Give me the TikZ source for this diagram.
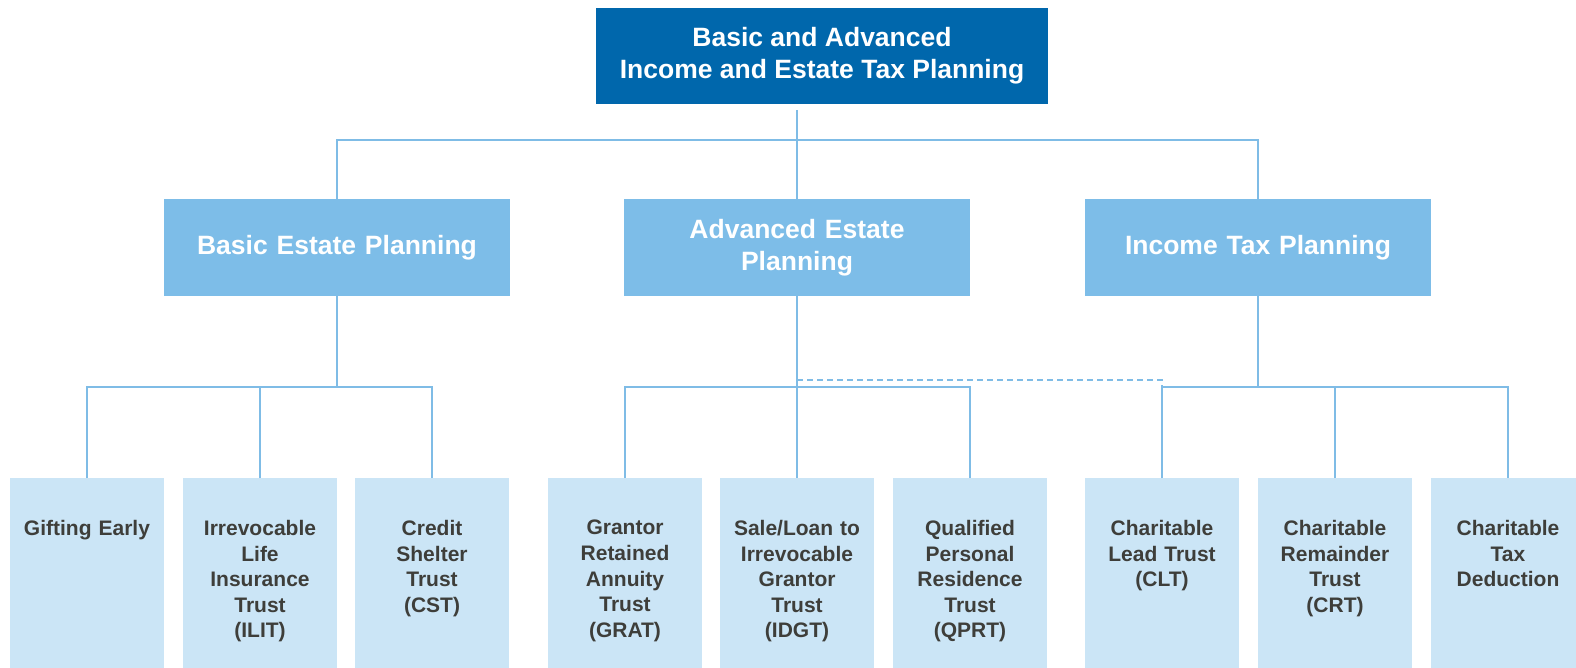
\documentclass[tikz,border=0pt]{standalone}
\usepackage{fontspec}
\setmainfont{Liberation Sans}

\definecolor{topblue}{HTML}{0067AC}
\definecolor{midblue}{HTML}{7DBDE8}
\definecolor{leafblue}{HTML}{CBE5F6}
\definecolor{linkblue}{HTML}{7FBCE6}
\definecolor{leafgray}{HTML}{3E3E3A}

\tikzset{
  topbox/.style={fill=topblue, text=white, minimum width=452pt, minimum height=96pt, align=center, font=\bfseries\fontsize{26.5}{32}\selectfont},
  midbox/.style={fill=midblue, text=white, minimum width=346pt, minimum height=97pt, text width=330pt, align=center, font=\bfseries\fontsize{26.5}{32}\selectfont},
  leafbox/.style={fill=leafblue, minimum width=154pt, minimum height=192pt, anchor=north, inner sep=0pt},
  leaftext/.style={anchor=north, text=leafgray, text width=150pt, align=center, inner sep=0pt, font=\bfseries\fontsize{21}{25.6}\selectfont},
  link/.style={draw=linkblue, line width=1.5pt},
  dashlink/.style={link, dash pattern=on 6pt off 4pt},
}

\begin{document}
\begin{tikzpicture}[x=1pt, y=-1pt]
\useasboundingbox (0,0) rectangle (1576,668);

% Top box
\node[topbox] (top) at (822,56) {Basic and Advanced\\Income and Estate Tax Planning};

% Second level
\node[midbox] (basic) at (337,247.5) {Basic Estate Planning};
\node[midbox] (adv) at (797,247.5) {Advanced Estate\\Planning};
\node[midbox] (income) at (1258,247.5) {Income Tax Planning};

% Leaves
\foreach \cx/\name/\label in {
  87/gift/{Gifting Early},
  260/ilit/{Irrevocable\\Life\\Insurance\\Trust\\(ILIT)},
  432/cst/{Credit\\Shelter\\Trust\\(CST)},
  625/grat/{Grantor\\Retained\\Annuity\\Trust\\(GRAT)},
  797/idgt/{Sale/Loan to\\Irrevocable\\Grantor\\Trust\\(IDGT)},
  970/qprt/{Qualified\\Personal\\Residence\\Trust\\(QPRT)},
  1162/clt/{Charitable\\Lead Trust\\(CLT)},
  1335/crt/{Charitable\\Remainder\\Trust\\(CRT)},
  1508/ded/{Charitable\\Tax\\Deduction}}
{
  \node[leafbox] (\name) at (\cx,478) {};
  \node[leaftext] (\name-txt) at ([yshift=-42pt]\name.north) {\label};
}

% Bus lines
\coordinate (bus1) at (797,140);
\coordinate (bus2a) at (337,387);
\coordinate (bus2b) at (797,387);
\coordinate (bus2c) at (1258,387);
\coordinate (dashy) at (797,380);

% Top to second level
\draw[link] ([yshift=-6pt]adv.north |- top.south) -- (adv.north);
\draw[link] (basic.north) |- (bus1) -| (income.north);

% Basic estate planning
\draw[link] (basic.south) -- (bus2a);
\draw[link] (gift.north) |- (bus2a) -| (cst.north);
\draw[link] (ilit.north) -- (ilit.north |- bus2a);

% Advanced estate planning
\draw[link] (adv.south) -- (idgt.north);
\draw[link] (grat.north) |- (bus2b) -| (qprt.north);

% Income tax planning
\draw[link] (income.south) -- (bus2c);
\draw[link] (clt.north) |- (bus2c) -| (ded.north);
\draw[link] (crt.north) -- (crt.north |- bus2c);

% Dashed link
\draw[dashlink] (dashy) -| (clt.north |- bus2c);
\end{tikzpicture}
\end{document}
